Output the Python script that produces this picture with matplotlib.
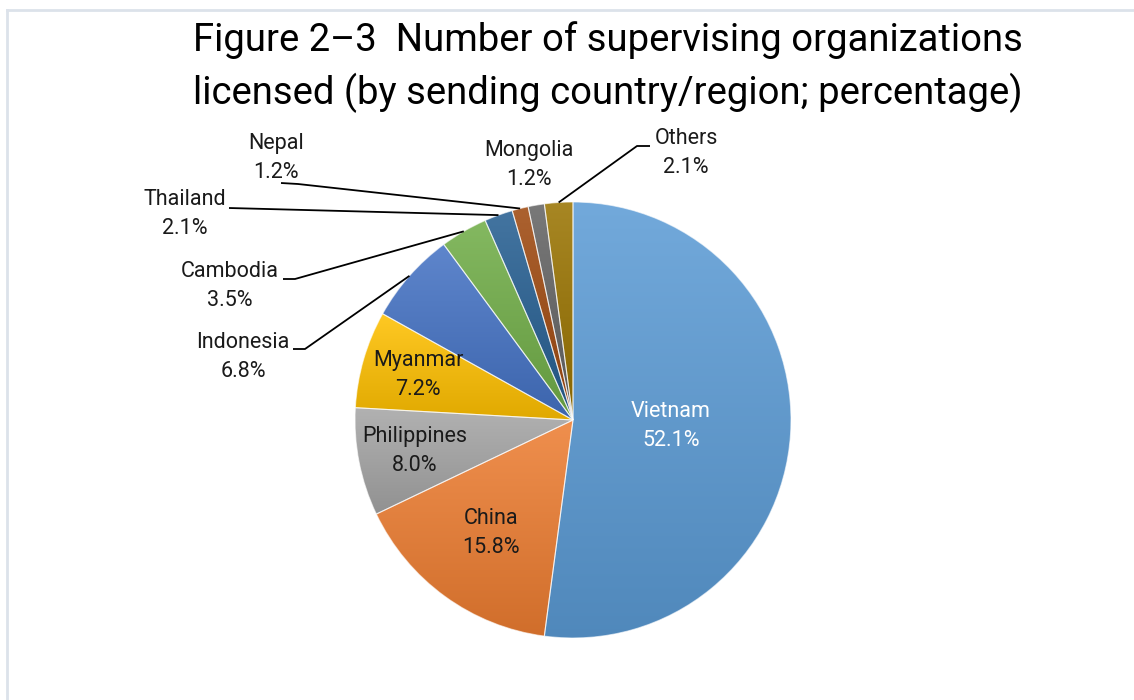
import numpy as np
import matplotlib
matplotlib.use("Agg")
import matplotlib.pyplot as plt
from matplotlib.colors import to_rgb
from matplotlib.lines import Line2D

# ---- data ----
categories = ["Vietnam", "China", "Philippines", "Myanmar", "Indonesia",
              "Cambodia", "Thailand", "Nepal", "Mongolia", "Others"]
shares = [52.1, 15.8, 8.0, 7.2, 6.8, 3.5, 2.1, 1.2, 1.2, 2.1]
pct_labels = ["52.1%", "15.8%", "8.0%", "7.2%", "6.8%", "3.5%", "2.1%", "1.2%", "1.2%", "2.1%"]
title_text = "Figure 2\u20133  Number of supervising organizations\nlicensed (by sending country/region; percentage)"

# ---- style ----
colors = ["#5B9BD5", "#ED7D31", "#A5A5A5", "#FFC000", "#4472C4",
          "#70AD47", "#255E91", "#9E480E", "#636363", "#997300"]
FONT = ["Roboto", "DejaVu Sans"]
plt.rcParams['font.family'] = FONT
TXT = "#1a1a1a"
LBL_FS = 15.5

W, H = 1134, 700
fig = plt.figure(figsize=(W / 100, H / 100), dpi=100)
ax = fig.add_axes([0, 0, 1, 1])
ax.set_xlim(0, W)
ax.set_ylim(0, H)
ax.set_aspect('equal')
ax.axis('off')

cx, cy, R = 573, H - 420, 218

wedges, _ = ax.pie(shares, colors=colors, startangle=90, counterclock=False,
                   center=(cx, cy), radius=R,
                   wedgeprops=dict(linewidth=0.8, edgecolor=(1, 1, 1, 0.6)))
ax.set_xlim(0, W)
ax.set_ylim(0, H)

# gradient fills clipped to each wedge
grad = np.linspace(0, 1, 256).reshape(-1, 1)
for w, c in zip(wedges, colors):
    rgb = np.array(to_rgb(c))
    top = rgb + (1 - rgb) * 0.14
    bot = rgb * 0.88
    img = top[None, None, :] * (1 - grad[:, :, None]) + bot[None, None, :] * grad[:, :, None]
    ext = w.get_path().get_extents()
    im = ax.imshow(img, extent=[ext.x0, ext.x1, ext.y0, ext.y1], origin='upper',
                   aspect='auto', zorder=w.get_zorder() + 0.1, interpolation='bilinear')
    im.set_clip_path(w)
    w.set_facecolor('none')
    w.set_zorder(w.get_zorder() + 0.2)

def mid_angle(w):
    return np.deg2rad((w.theta1 + w.theta2) / 2)

# inside labels (radius fraction per slice)
inside = {0: 0.45, 1: 0.64, 2: 0.74, 3: 0.74}
for i, frac in inside.items():
    a = mid_angle(wedges[i])
    x = cx + R * frac * np.cos(a)
    y = cy + R * frac * np.sin(a)
    ax.text(x, y, f"{categories[i]}\n{pct_labels[i]}", ha='center', va='center',
            fontsize=LBL_FS, color="white" if i == 0 else TXT,
            linespacing=1.5, zorder=10)

# outside labels: label centre (px) and leader knee points (px)
outside = {
    4: dict(pos=(243, 357), knee=[(293, 349), (305, 349)]),
    5: dict(pos=(230, 286), knee=[(283, 279), (295, 279)]),
    6: dict(pos=(185, 214), knee=[(229, 208)]),
    7: dict(pos=(276, 158), knee=[(281, 183), (298, 184)]),
    8: dict(pos=(529, 165), knee=None),
    9: dict(pos=(686, 153), knee=[(650, 146), (637, 146)]),
}
for i, d in outside.items():
    px, py = d['pos']
    ax.text(px, H - py, f"{categories[i]}\n{pct_labels[i]}", ha='center', va='center',
            fontsize=LBL_FS, color=TXT, linespacing=1.5, zorder=10)
    if d['knee']:
        a = mid_angle(wedges[i])
        ex, ey = cx + R * np.cos(a), cy + R * np.sin(a)
        xs = [k[0] for k in d['knee']] + [ex]
        ys = [H - k[1] for k in d['knee']] + [ey]
        ax.plot(xs, ys, color="black", lw=1.3, zorder=9, solid_capstyle='butt')

ax.text(608, H - 67, title_text, ha='center', va='center', fontsize=27.5,
        color="black", linespacing=1.42, zorder=10)

# frame lines
fig.add_artist(Line2D([6.5 / W, 6.5 / W], [0, 1 - 9.5 / H], transform=fig.transFigure,
                      color="#DCE2EA", lw=2))
fig.add_artist(Line2D([6.5 / W, 1], [1 - 9.5 / H, 1 - 9.5 / H], transform=fig.transFigure,
                      color="#DCE2EA", lw=2))

fig.savefig("out.png", dpi=100)
